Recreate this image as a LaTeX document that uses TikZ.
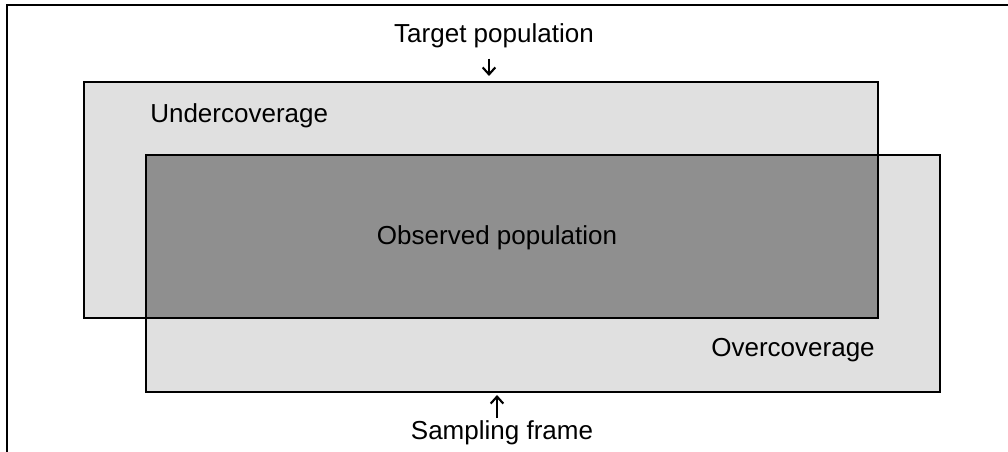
\documentclass[tikz,border=0pt]{standalone}
\usepackage{fontspec}
\setmainfont{Liberation Sans}
\usetikzlibrary{arrows.meta}

\definecolor{lightarea}{gray}{0.88}
\definecolor{darkarea}{gray}{0.56}

\tikzset{
  lbl/.style={font=\fontsize{18.5}{22}\selectfont, inner sep=0pt},
  pointer/.style={-{Straight Barb[length=5pt,width=9pt,line width=1.5pt]}, line width=1.5pt}
}

\begin{document}
\begin{tikzpicture}[x=0.025cm, y=-0.025cm]
        \useasboundingbox (0,0) rectangle (1008,452);

        % Frame lines (left and top only)
        \draw[line width=1.4pt] (7,452) -- (7,5) -- (1008,5);

        % Target population and sampling frame
        \coordinate (tnw) at (84,82);
        \coordinate (tse) at (878,318);
        \coordinate (fnw) at (146,155);
        \coordinate (fse) at (940,392);
        \fill[lightarea] (tnw) rectangle (tse);
        \fill[lightarea] (fnw) rectangle (fse);

        % Observed population = overlap
        \fill[darkarea] (fnw) rectangle (tse);

        \draw[line width=1.2pt] (tnw) rectangle (tse);
        \draw[line width=1.2pt] (fnw) rectangle (fse);

        % Labels
        \node[lbl, anchor=base] (target) at (494,43) {Target population};
        \node[lbl, anchor=base west] (under) at (150,123) {Undercoverage};
        \node[lbl, anchor=base] (observed) at (497,245) {Observed population};
        \node[lbl, anchor=base east] (over) at (875,357) {Overcoverage};
        \node[lbl, anchor=base] (frame) at (502,440) {Sampling frame};

        % Pointers
        \coordinate (tdown) at (489,76);
        \coordinate (fup) at (497,395);
        \draw[pointer, shorten <=7pt] (target.south -| tdown) -- (tdown);
        \draw[pointer, shorten <=2pt] (frame.north -| fup) -- (fup);
\end{tikzpicture}
\end{document}
